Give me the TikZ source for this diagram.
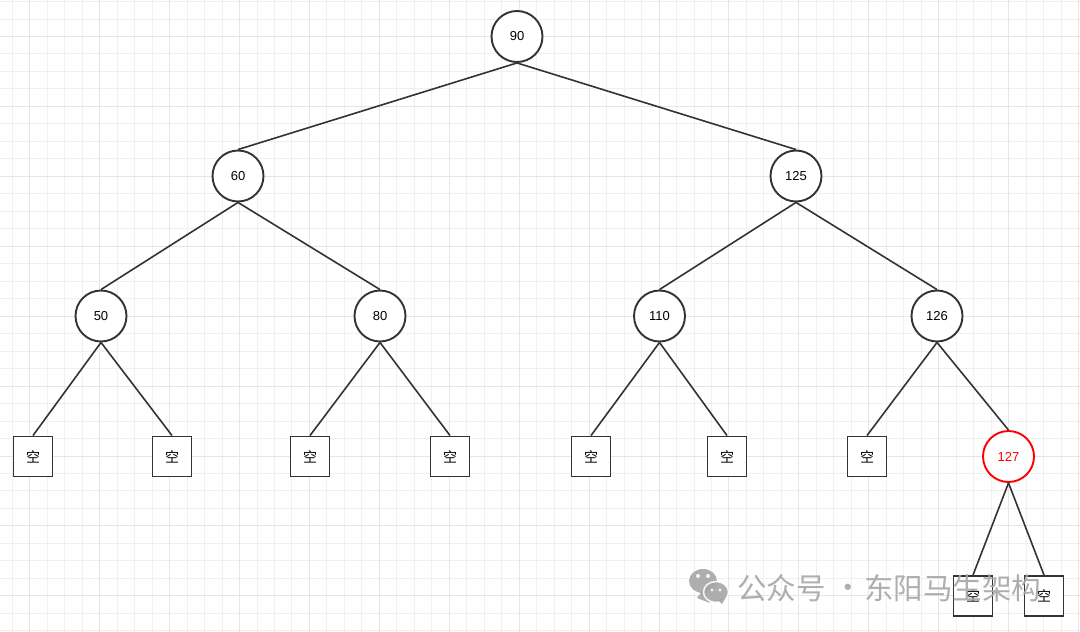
\documentclass[tikz,border=0pt]{standalone}
\usepackage{fontspec}
\setmainfont{Liberation Sans}
\newfontfamily\cjk{Noto Sans CJK SC}
\usetikzlibrary{positioning}
\definecolor{ink}{HTML}{333333}
\definecolor{gridminor}{HTML}{F0F0F0}
\definecolor{gridmajor}{HTML}{E6E6E6}
\definecolor{hot}{HTML}{FF0000}
\definecolor{wmgray}{HTML}{A6A6A6}
\tikzset{
  keynode/.style={draw=ink, fill=white, line width=1.9pt, circle,
                  minimum size=51pt, inner sep=0pt,
                  font=\fontsize{13}{15}\selectfont},
  nilbox/.style={draw=ink, fill=white, line width=1.9pt, minimum width=39pt,
                 minimum height=40pt, inner sep=0pt, font=\cjk\fontsize{14}{16}\selectfont},
  link/.style={draw=ink, line width=1.6pt},
  minorline/.style={draw=gridminor, line width=1pt},
  majorline/.style={draw=gridmajor, line width=1.5pt},
  wmtext/.style={anchor=west, text=wmgray, inner sep=0pt, font=\cjk\fontsize{29.5}{31}\selectfont}
}

\begin{document}
\begin{tikzpicture}[x=1pt,y=-1pt]
    \useasboundingbox (0,0) rectangle (1080,632);
    \fill[white] (0,0) rectangle (1080,632);
    % background grid
    \foreach \i in {0,...,61}
      \draw[minorline] ({round(11.8+17.48*\i)+0.5},0) -- ({round(11.8+17.48*\i)+0.5},632);
    \foreach \i in {0,...,36}
      \draw[minorline] (0,{round(1.04+17.48*\i)+0.5}) -- (1080,{round(1.04+17.48*\i)+0.5});
    \foreach \i in {0,...,15}
      \draw[majorline] ({round(29.3+69.92*\i)+0.5},0) -- ({round(29.3+69.92*\i)+0.5},632);
    \foreach \i in {0,...,8}
      \draw[majorline] (0,{round(36+69.92*\i)+0.5}) -- (1080,{round(36+69.92*\i)+0.5});

    % keys
    \node[keynode] (k90)  at (517,36.5) {90};
    \node[keynode] (k60)  at (238,176)  {60};
    \node[keynode] (k125) at (796,176)  {125};
    \node[keynode] (k50)  at (101,316)  {50};
    \node[keynode] (k80)  at (380,316)  {80};
    \node[keynode] (k110) at (659.5,316) {110};
    \node[keynode] (k126) at (937,316)  {126};
    \node[keynode,draw=hot,text=hot] (k127) at (1008.5,456.5) {127};

    % empty leaves
    \foreach \n/\x in {e1/33,e2/172,e3/310,e4/450,e5/591,e6/727,e7/867}
      \node[nilbox] (\n) at (\x,456.5) {空};
    \node[nilbox] (e8) at (973,596) {空};
    \node[nilbox] (e9) at (1044,596) {空};

    % links
    \foreach \a/\b in {k90/k60,k90/k125,k60/k50,k60/k80,k125/k110,k125/k126,
                       k50/e1,k50/e2,k80/e3,k80/e4,k110/e5,k110/e6,k126/e7,k126/k127,
                       k127/e8,k127/e9}
      \draw[link] (\a.south) -- (\b.north);

    % watermark
    \begin{scope}[opacity=0.9]
      \fill[wmgray] (703,581) ellipse (14 and 12);
      \fill[wmgray] (710,603) -- (697,598) -- (703,590) -- cycle;
      \draw[white,fill=wmgray,line width=1.5pt] (716,592) ellipse (12.5 and 10.5);
      \fill[wmgray] (722,604) -- (726,597) -- (718,600) -- cycle;
      \fill[white] (698,576) circle (2) (708,576) circle (2)
                   (712,590) circle (1.6) (720,590) circle (1.6);
      \node[wmtext] (wm1) at (737,588) {公众号};
      \node[wmtext,anchor=center] (wm2) at (848,591) {·};
      \node[wmtext] (wm3) at (864,588) {东阳马生架构};
    \end{scope}
\end{tikzpicture}
\end{document}
